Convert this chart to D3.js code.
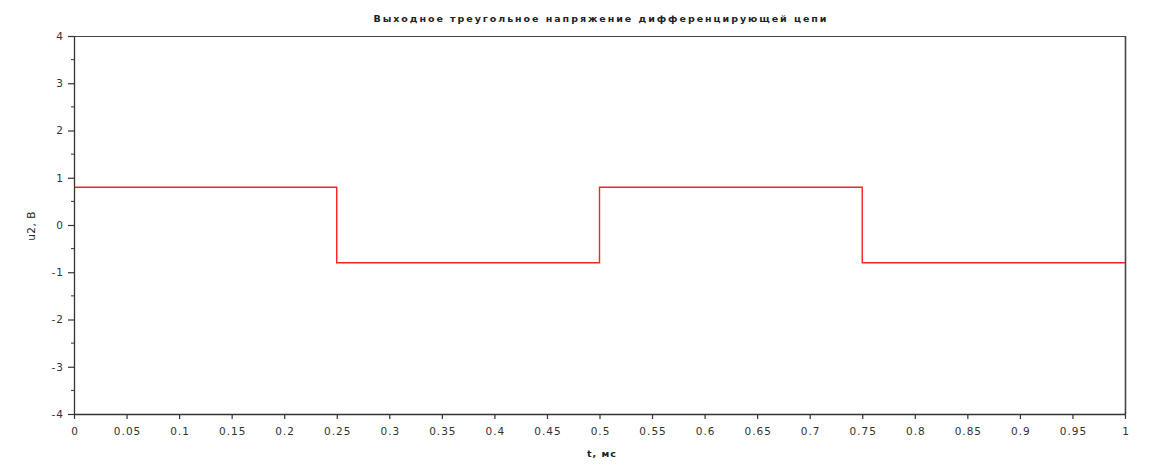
<!DOCTYPE html>
<html><head><meta charset="utf-8">
<script src="https://cdn.jsdelivr.net/npm/d3@7"></script>
<style>
body{margin:0;background:#fff;}
text{font-family:"DejaVu Sans",Verdana,sans-serif;}
</style></head>
<body><svg id="c" width="1166" height="471"></svg>
<script>
const title = "Выходное треугольное напряжение дифференцирующей цепи";
const xLabel = "t, мс";
const yLabel = "u2, В";
const tValues = [0, 0.25, 0.25, 0.5, 0.5, 0.75, 0.75, 1];
const uValues = [0.8, 0.8, -0.8, -0.8, 0.8, 0.8, -0.8, -0.8];
const xTicks = [0,0.05,0.1,0.15,0.2,0.25,0.3,0.35,0.4,0.45,0.5,0.55,0.6,0.65,0.7,0.75,0.8,0.85,0.9,0.95,1];
const yTicks = [-4,-3,-2,-1,0,1,2,3,4];
const yMinorTicks = [-3.5,-2.5,-1.5,-0.5,0.5,1.5,2.5,3.5];

const svg = d3.select("#c");
const L=74, R=1125, T=36, B=414;
const x = d3.scaleLinear().domain([0,1]).range([L,R]);
const y = d3.scaleLinear().domain([-4,4]).range([B,T]);

svg.append("line").attr("x1",L).attr("x2",R).attr("y1",T+0.5).attr("y2",T+0.5).attr("stroke","#444").attr("stroke-width",1.2);
svg.append("line").attr("x1",R+0.5).attr("x2",R+0.5).attr("y1",T).attr("y2",B).attr("stroke","#444").attr("stroke-width",1.6);

const line = d3.line().x((d,i)=>x(tValues[i])).y((d,i)=>y(uValues[i]));
svg.append("path").datum(tValues).attr("d",line).attr("fill","none").attr("stroke","#ff2020").attr("stroke-width",1.4);

const xa = svg.append("g").attr("transform",`translate(0,${B})`)
 .call(d3.axisBottom(x).tickValues(xTicks).tickFormat(d=>String(+d.toFixed(2))).tickSize(5).tickSizeOuter(0));
const ya = svg.append("g").attr("transform",`translate(${L},0)`)
 .call(d3.axisLeft(y).tickValues(yTicks).tickFormat(d=>String(d)).tickSize(6).tickSizeOuter(0));
ya.selectAll(".minor").data(yMinorTicks).enter().append("line").attr("class","minor")
 .attr("x1",-3).attr("x2",0).attr("y1",d=>y(d)).attr("y2",d=>y(d)).attr("stroke","#333");

[xa,ya].forEach(g=>{
  g.select(".domain").attr("stroke","#333").attr("stroke-width",1.3);
  g.selectAll(".tick line").attr("stroke","#333").attr("stroke-width",1.2);
  g.selectAll(".tick text").attr("fill","#333").style("font-size","10.5px").style("letter-spacing","1px").style("font-family","DejaVu Sans, Verdana, sans-serif");
});
xa.selectAll(".tick text").attr("y",11).attr("dy","0.95em").attr("dx","0.5px");
ya.selectAll(".tick text").attr("x",-10);

svg.append("text").attr("x",601).attr("y",22).attr("text-anchor","middle")
 .style("font-size","9.5px").style("font-weight","bold").style("letter-spacing","1.95px").attr("fill","#222").text(title);
svg.append("text").attr("x",602).attr("y",457).attr("text-anchor","middle")
 .style("font-size","9.5px").style("font-weight","bold").style("letter-spacing","1px").attr("fill","#222").text(xLabel);
svg.append("text").attr("transform","translate(35,226) rotate(-90)").attr("text-anchor","middle")
 .style("font-size","10.5px").style("letter-spacing","0.5px").attr("fill","#222").text(yLabel);
</script></body></html>
